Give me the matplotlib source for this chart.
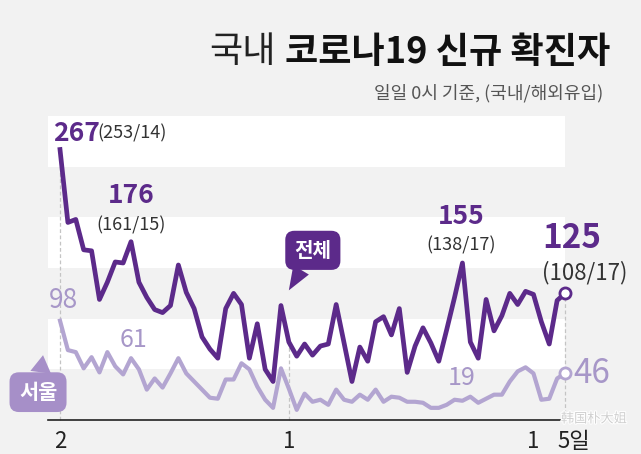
import matplotlib
matplotlib.use('Agg')
import matplotlib.pyplot as plt
import matplotlib.patheffects as pe

plt.rcParams['font.family'] = ['Noto Sans CJK KR', 'DejaVu Sans']

# 2020-09-02 ~ 2020-11-05 일별 신규 확진자
days = list(range(65))
total = [267, 195, 198, 168, 167, 119, 136, 156, 155, 176,
         136, 121, 109, 106, 113, 153, 126, 110, 82, 70,
         61, 110, 125, 114, 61, 95, 50, 38, 113, 77,
         63, 75, 64, 73, 75, 114, 76, 38, 72, 58,
         97, 102, 84, 110, 47, 73, 91, 76, 58, 89,
         121, 155, 77, 61, 119, 88, 103, 125, 114, 127,
         124, 97, 75, 118, 125]
seoul = [98, 69, 67, 51, 62, 47, 67, 53, 45, 61,
         50, 30, 41, 32, 46, 61, 46, 38, 30, 22,
         21, 40, 40, 56, 50, 33, 20, 12, 51, 31,
         10, 26, 18, 20, 15, 30, 20, 18, 25, 20,
         30, 18, 23, 22, 18, 18, 17, 12, 12, 15,
         20, 19, 23, 17, 21, 25, 25, 38, 48, 52,
         46, 20, 21, 41, 46]

# 표시할 날짜 / 라벨
tick_days = [0, 29, 60, 64]
tick_labels = ['2', '1', '1', '5일']
label_days = [0, 9, 51, 64]
split_labels = ['(253/14)', '(161/15)', '(138/17)', '(108/17)']
guide_days = [0, 29, 64]
band_lows = [50, 150, 250]

PURPLE = '#5c2a8a'
LILAC = '#b3a5d1'
LILAC_TXT = '#a797c8'
BG = '#f2f2f2'

fig = plt.figure(figsize=(6.41, 4.54), dpi=100, facecolor=BG)
ax = fig.add_axes([0, 0, 1, 1])
ax.set_facecolor(BG)

# 픽셀 위치에 맞춘 축 범위 (하루 ~7.9px, 1명 ~1.01px)
dx, dy = 7.891, 1.013
ax.set_xlim(-60 / dx, (641 - 60) / dx)
ax.set_ylim(-34 / dy, 420 / dy)
band_left = -1.5

for lo in band_lows:
    ax.fill_between([band_left, days[-1]], lo, lo + 50, color='white', lw=0, zorder=0)

for s in ['top', 'left', 'right']:
    ax.spines[s].set_visible(False)
ax.spines['bottom'].set_position(('data', 0))
ax.spines['bottom'].set_bounds(band_left, days[-1])
ax.spines['bottom'].set_color('#222222')
ax.spines['bottom'].set_linewidth(1.2)
ax.set_xticks([])
ax.set_yticks([])

ax.vlines(guide_days, 0, [total[d] for d in guide_days], colors='#c4c4c4',
          linestyles=(0, (3, 2)), lw=0.9, zorder=1)

ax.plot(days, seoul, color=LILAC, lw=3, zorder=2)
ax.plot(days, total, color=PURPLE, lw=3.4, zorder=3)
ax.plot(days[-1], seoul[-1], 'o', ms=8, mfc='white', mec=LILAC, mew=2, zorder=4)
ax.plot(days[-1], total[-1], 'o', ms=8, mfc='white', mec=PURPLE, mew=2, zorder=4)

# 전체 수치 라벨
big = [(19, (-7, 16), 'left'), (19, (0, 46), 'center'),
       (19, (-1, 46), 'center'), (24, (7, 55), 'center')]
sub = [((37, 16), 'left', 13), ((0, 16), 'center', 13),
       ((-1, 18), 'center', 13), ((20, 21), 'center', 16)]
for i, d in enumerate(label_days):
    fs, off, ha = big[i]
    ax.annotate(str(total[d]), xy=(d, total[d]), xytext=off, textcoords='offset pixels',
                ha=ha, va='center', fontsize=fs, fontweight='bold', color=PURPLE, zorder=5)
    soff, sha, sfs = sub[i]
    ax.annotate(split_labels[i], xy=(d, total[d]), xytext=soff, textcoords='offset pixels',
                ha=sha, va='center', fontsize=sfs, color='#333333', zorder=5)

# 서울 수치 라벨
seoul_off = [((4, 20), 'center', 19), ((2, 18), 'center', 18),
             ((-1, 23), 'center', 18), ((8, 0), 'left', 24)]
for i, d in enumerate(label_days):
    off, ha, fs = seoul_off[i]
    ax.annotate(str(seoul[d]), xy=(d, seoul[d]), xytext=off, textcoords='offset pixels',
                ha=ha, va='center', fontsize=fs, color=LILAC_TXT, zorder=5)

# x축 날짜
for d, lab in zip(tick_days, tick_labels):
    shift = 9 if lab == '5일' else 0
    ax.annotate(lab, xy=(d, 0), xytext=(shift, -22), textcoords='offset pixels',
                ha='center', va='center', fontsize=16, color='#222222')

# 말풍선 라벨
ax.annotate('전체', xy=(29, 128), xytext=(24, 40), textcoords='offset pixels',
            ha='center', va='center', fontsize=14.5, fontweight='bold', color='white',
            bbox=dict(boxstyle='round,pad=0.45,rounding_size=0.45', fc=PURPLE, ec='none'),
            arrowprops=dict(arrowstyle='wedge,tail_width=0.9', fc=PURPLE, ec='none',
                            shrinkA=0, shrinkB=0), zorder=6)
ax.annotate('서울', xy=(-2.15, 64), xytext=(-5, -37), textcoords='offset pixels',
            ha='center', va='center', fontsize=15, fontweight='bold', color='white',
            bbox=dict(boxstyle='round,pad=0.45,rounding_size=0.45', fc='#a68fc8', ec='none'),
            arrowprops=dict(arrowstyle='wedge,tail_width=1.0', fc='#a68fc8', ec='none',
                            shrinkA=0, shrinkB=0), zorder=6)

# 제목
W, H = 641, 454
t_bold = fig.text(610 / W, 1 - 52 / H, '코로나19 신규 확진자', ha='right', va='center',
                  fontsize=26, fontweight='bold', color='#111111')
fig.canvas.draw()
bb = t_bold.get_window_extent()
fig.text((bb.x0 - 9) / W, 1 - 52 / H, '국내', ha='right', va='center',
         fontsize=26, fontweight='light', color='#222222')
fig.text(603 / W, 1 - 93 / H, '일일 0시 기준, (국내/해외유입)', ha='right', va='center',
         fontsize=13, color='#555555')

# 워터마크
fig.text(594 / W, 1 - 419 / H, '韩国朴大姐', ha='center', va='center', fontsize=9.5,
         color='#d0d0d0', family=['Noto Sans CJK SC', 'DejaVu Sans'],
         path_effects=[pe.withStroke(linewidth=1.5, foreground='white')])

fig.savefig('out.png', dpi=100, facecolor=BG)
